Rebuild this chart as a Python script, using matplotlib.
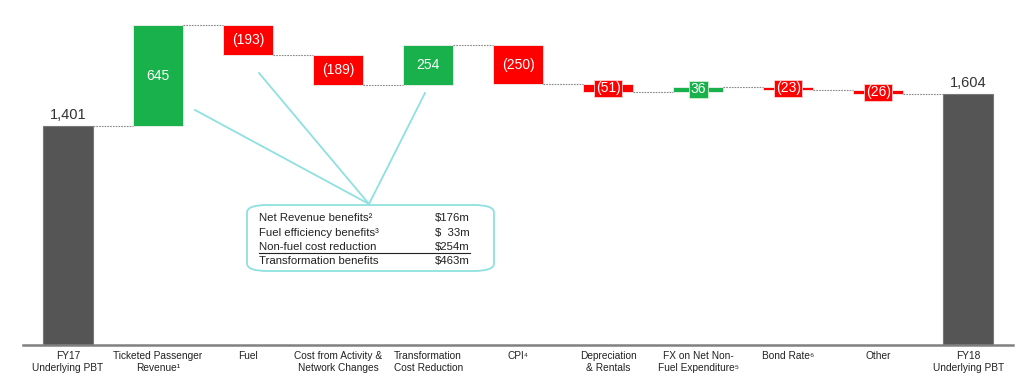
import matplotlib
matplotlib.use("Agg")
import matplotlib.pyplot as plt
from matplotlib.patches import FancyBboxPatch
import numpy as np

plt.rcParams['font.family'] = ['Liberation Sans', 'DejaVu Sans']

categories = ["FY17\nUnderlying PBT", "Ticketed Passenger\nRevenue¹", "Fuel",
              "Cost from Activity &\nNetwork Changes", "Transformation\nCost Reduction",
              "CPI⁴", "Depreciation\n& Rentals", "FX on Net Non-\nFuel Expenditure⁵",
              "Bond Rate⁶", "Other", "FY18\nUnderlying PBT"]
start_total = 1401
changes = [645, -193, -189, 254, -250, -51, 36, -23, -26]
end_total = 1604

callout_rows = ["Net Revenue benefits²", "Fuel efficiency benefits³",
                "Non-fuel cost reduction", "Transformation benefits"]
callout_vals = ["$176m", "$  33m", "$254m", "$463m"]

GREEN = "#19b14c"
RED = "#ff0000"
GREY = "#555555"
CYAN = "#8fe0e0"

fig = plt.figure(figsize=(10.24, 3.86), dpi=100)
ax = fig.add_axes([0.0225, 1 - 345/386, 0.967, 345/386])
ax.set_xlim(-0.5, 10.5)
ax.set_ylim(0, 2207)
for s in ['top', 'right', 'left']:
    ax.spines[s].set_visible(False)
ax.spines['bottom'].set_color('#808080')
ax.spines['bottom'].set_linewidth(1.8)
ax.set_yticks([])
ax.set_xticks(range(len(categories)))
ax.set_xticklabels(categories, fontsize=7.3, color='#222222', linespacing=1.25)
ax.tick_params(axis='x', length=0, pad=4)

w = 0.556
# totals
ax.bar(0, start_total, width=w, color=GREY, edgecolor='#777777', linewidth=0.8)
ax.bar(10, end_total, width=w, color=GREY, edgecolor='#777777', linewidth=0.8)
ax.text(0, start_total + 25, f"{start_total:,}", ha='center', va='bottom', fontsize=10.5, color='#333333')
ax.text(10, end_total + 25, f"{end_total:,}", ha='center', va='bottom', fontsize=10.5, color='#333333')

running = start_total
levels = [running]
for i, c in enumerate(changes, start=1):
    bottom = running if c > 0 else running + c
    color = GREEN if c > 0 else RED
    ax.bar(i, abs(c), bottom=bottom, width=w, color=color, edgecolor='#f0f0f0', linewidth=0.6)
    label = f"{c}" if c > 0 else f"({-c})"
    yc = bottom + abs(c) / 2
    if abs(c) >= 100:
        ax.text(i, yc, label, ha='center', va='center', color='white', fontsize=10)
    else:
        ax.text(i, yc, label, ha='center', va='center', color='white', fontsize=10,
                bbox=dict(boxstyle='square,pad=0.12', facecolor=color,
                          edgecolor='#ffd0d0' if c < 0 else '#d0f0d0', linewidth=0.6))
    running += c
    levels.append(running)

# connectors
for i, lv in enumerate(levels):
    ax.plot([i + w/2, i + 1 - w/2], [lv, lv], color='#888888', lw=0.8, ls=(0, (1.5, 1)))

# callout lines (figure pixel coords -> figure fraction)
def fp(x, y):
    return (x / 1024, 1 - y / 386)

apex = fp(369, 204)
for tgt in [(195, 110), (259, 73), (425, 93)]:
    t = fp(*tgt)
    fig.add_artist(plt.Line2D([apex[0], t[0]], [apex[1], t[1]], color=CYAN, lw=1.3, transform=fig.transFigure))

bx0, by0 = fp(247, 271)
bx1, by1 = fp(494, 205)
box = FancyBboxPatch((bx0, by0), bx1 - bx0, by1 - by0, boxstyle="round,pad=0,rounding_size=0.02",
                     transform=fig.transFigure, facecolor='white', edgecolor=CYAN, lw=1.3,
                     mutation_aspect=386/1024*2.6)
fig.add_artist(box)

row_y = [218, 233, 247, 261]
for r, v, yy in zip(callout_rows, callout_vals, row_y):
    x0, y0 = fp(259, yy)
    x1, _ = fp(470, yy)
    fig.text(x0, y0, r, ha='left', va='center', fontsize=8.2, color='#222222')
    fig.text(x1, y0, v, ha='right', va='center', fontsize=8.2, color='#222222')
ul0 = fp(259, 253)
ul1 = fp(470, 253)
fig.add_artist(plt.Line2D([ul0[0], ul1[0]], [ul0[1], ul1[1]], color='#222222', lw=0.8, transform=fig.transFigure))

fig.savefig("out.png", dpi=100)
